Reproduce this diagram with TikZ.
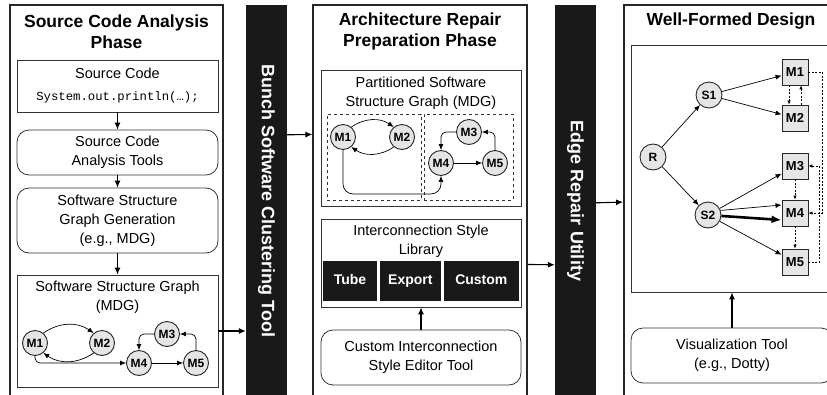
\documentclass[tikz,border=0pt]{standalone}
\usepackage{fontspec}
\setmainfont{Liberation Sans}
\setmonofont{Liberation Mono}
\usetikzlibrary{positioning,calc,arrows.meta}

\begin{document}
\begin{tikzpicture}[x=1pt, y=-1pt,
    >={Latex[length=6pt,width=5pt]},
    phase/.style={draw=black!85, line width=1.1pt, inner sep=0pt},
    ptitle/.style={font=\fontsize{17.5}{21}\selectfont\bfseries, align=center, inner sep=0pt},
    tool/.style={fill=black!90, inner sep=0pt, minimum width=41pt, minimum height=392pt},
    tooltext/.style={text=white, rotate=-90, inner sep=0pt, font=\fontsize{18}{21}\selectfont\bfseries},
    box/.style={draw=black!80, line width=0.8pt, inner sep=0pt, align=center, font=\fontsize{14.5}{19}\selectfont},
    rbox/.style={box, rounded corners=12pt},
    btitle/.style={align=center, inner sep=0pt, font=\fontsize{14.5}{19}\selectfont},
    mod/.style={circle, draw=black!85, line width=0.9pt, fill=black!10, minimum size=25pt, inner sep=0pt, font=\fontsize{12}{12}\selectfont\bfseries},
    sq/.style={rectangle, draw=black!85, line width=0.9pt, fill=black!10, minimum size=26pt, inner sep=0pt, font=\fontsize{13}{13}\selectfont\bfseries},
    sty/.style={fill=black!90, text=white, inner sep=0pt, minimum height=40pt, text height=10pt, text depth=3pt, font=\fontsize{14}{14}\selectfont\bfseries},
    clus/.style={draw=black!80, dashed, line width=0.7pt, inner sep=0pt},
    flow/.style={->, line width=1.1pt, >={Latex[length=7pt,width=6pt]}},
    link/.style={->, line width=0.7pt},
    dlink/.style={->, line width=0.6pt, dash pattern=on 2pt off 1.5pt, >={Latex[length=4pt,width=3.5pt]}},
  ]
  \useasboundingbox (0,0) rectangle (827,394);

  %source code analysis phase
  \node[phase, minimum width=213pt, minimum height=395pt] (PL) at (116.5,202.5) {};
  \node[ptitle] (TL) at ($(PL.north)+(0,27.5)$) {Source Code Analysis\\Phase};

  \node[box, minimum width=201pt, minimum height=52pt] (SC) at (117.5,86)
    {Source Code\\[3pt]{\ttfamily\fontsize{12.3}{14}\selectfont System.out.println(…);}};
  \node[rbox, minimum width=201pt, minimum height=45pt] (SCT) at (117.5,152.5) {Source Code\\Analysis Tools};
  \node[rbox, minimum width=201pt, minimum height=65pt] (SSGG) at (117.5,220.5)
    {Software Structure\\Graph Generation\\(e.g., MDG)};

  %software structure graph
  \node[box, minimum width=201pt, minimum height=112pt] (SSG) at (117.5,331) {};
  \node[btitle] (SSGt) at ($(SSG.north)+(0,23)$) {Software Structure Graph\\(MDG)};
  \node[mod] (a1) at (35,343) {M1};
  \node[mod] (a2) at (102,343) {M2};
  \node[mod] (a3) at (167,334) {M3};
  \node[mod] (a4) at (139,363) {M4};
  \node[mod] (a5) at (196,363) {M5};

  \path[link]
    (a1.50) edge[bend left=35] (a2.130)
    (a2.-130) edge[bend left=35] (a1.-50)
    (a4) edge (a5);
  \draw[link, rounded corners=5pt] (a1.south) |- (a4.west);
  \draw[link, rounded corners=5pt] (a5.north) |- (a3.east);
  \draw[link, rounded corners=5pt] (a3.west) -| (a4.north);

  %clustering tool
  \node[tool] (B1) at (266.5,201) {};
  \node[tooltext] (B1t) at (B1.center) {Bunch Software Clustering Tool};

  %architecture repair preparation phase
  \node[phase, minimum width=214pt, minimum height=395pt] (PM) at (420,202.5) {};
  \node[ptitle] (TM) at ($(PM.north)+(0,27.5)$) {Architecture Repair\\Preparation Phase};

  %partitioned graph
  \node[box, minimum width=200pt, minimum height=136pt] (PSG) at (421,138) {};
  \node[btitle] (PSGt) at ($(PSG.north)+(0,24)$) {Partitioned Software\\Structure Graph (MDG)};
  \node[clus, minimum width=94pt, minimum height=86pt] (C1) at (374,157) {};
  \node[clus, minimum width=89pt, minimum height=86pt] (C2) at (468.5,157) {};
  \node[mod] (b1) at (343,137) {M1};
  \node[mod] (b2) at (402,137) {M2};
  \node[mod] (b3) at (469,132) {M3};
  \node[mod] (b4) at (441,163) {M4};
  \node[mod] (b5) at (495,163) {M5};

  \path[link]
    (b1.50) edge[bend left=35] (b2.130)
    (b2.-130) edge[bend left=35] (b1.-50)
    (b4) edge (b5);
  \draw[link, rounded corners=10pt] (b1.south) |- ($(b4.south)+(0,18)$) -- (b4.south);
  \draw[link, rounded corners=5pt] (b5.north) |- (b3.east);
  \draw[link, rounded corners=5pt] (b3.west) -| (b4.north);

  %style library
  \node[box, minimum width=200pt, minimum height=88pt] (ISL) at (421,263) {};
  \node[btitle] (ISLt) at ($(ISL.north)+(0,23)$) {Interconnection Style\\Library};
  \node[sty, minimum width=54pt] (tube) at (350,281) {Tube};
  \node[sty, minimum width=61pt, right=2.5pt of tube] (export) {Export};
  \node[sty, minimum width=75pt, right=2.5pt of export] (custom) {Custom};

  \node[rbox, minimum width=200pt, minimum height=55pt] (CISE) at (421,357.5)
    {Custom Interconnection\\Style Editor Tool};

  %edge repair
  \node[tool] (B2) at (575.5,201) {};
  \node[tooltext] (B2t) at (B2.center) {Edge Repair Utility};

  %well-formed design
  \node[phase, line width=1.8pt, minimum width=214pt, minimum height=395pt] (PR) at (731,202.5) {};
  \node[ptitle] (TR) at ($(PR.north)+(0,17)$) {Well-Formed Design};
  \node[box, minimum width=202pt, minimum height=247pt] (WFD) at (732,168.5) {};
  \node[rbox, minimum width=202pt, minimum height=55pt] (VT) at (732,355.5) {Visualization Tool\\(e.g., Dotty)};

  \node[mod, minimum size=26pt] (R) at (653,157) {R};
  \node[mod, minimum size=26pt] (S1) at (709,95) {S1};
  \node[mod, minimum size=26pt] (S2) at (708,215) {S2};
  \node[sq] (q1) at (795,72) {M1};
  \node[sq] (q2) at (795,118) {M2};
  \node[sq] (q3) at (795,166) {M3};
  \node[sq] (q4) at (795,213) {M4};
  \node[sq] (q5) at (795,262) {M5};

  \path[link]
    (R) edge (S1)
    (R) edge (S2)
    (S1) edge (q1)
    (S1) edge (q2)
    (S2) edge (q3)
    (S2.20) edge ($(q4.west)+(0,-8)$)
    (S2) edge (q5);
  \draw[->, line width=2.6pt, >={Latex[length=10pt,width=8pt]}] (S2.-4) -- ($(q4.west)+(0,7)$);

  \path[dlink]
    ($(q1.south)+(-6,0)$) edge ($(q2.north)+(-6,0)$)
    ($(q2.north)+(6,0)$) edge ($(q1.south)+(6,0)$)
    (q3) edge (q4)
    (q4) edge (q5);
  \draw[dlink] (q1.east) -- ++(14,0) |- (q4.east);
  \draw[dlink] (q5.east) -- ++(11,0) |- (q3.east);

  %flow between phases
  \path[flow]
    (SC) edge (SCT)
    (SCT) edge (SSGG)
    (SSGG) edge (SSG)
    (SSG.east) edge (SSG.east -| B1.west)
    ($(B1.north east)+(0,130)$) edge ($(PM.north west)+(0,130)$)
    (CISE) edge (ISL)
    ($(PM.north east)+(0,260)$) edge ($(B2.north west)+(0,260)$)
    ($(B2.north east)+(0,198)$) edge ($(PR.north west)+(0,198)$)
    (VT) edge (WFD);

\end{tikzpicture}
\end{document}
